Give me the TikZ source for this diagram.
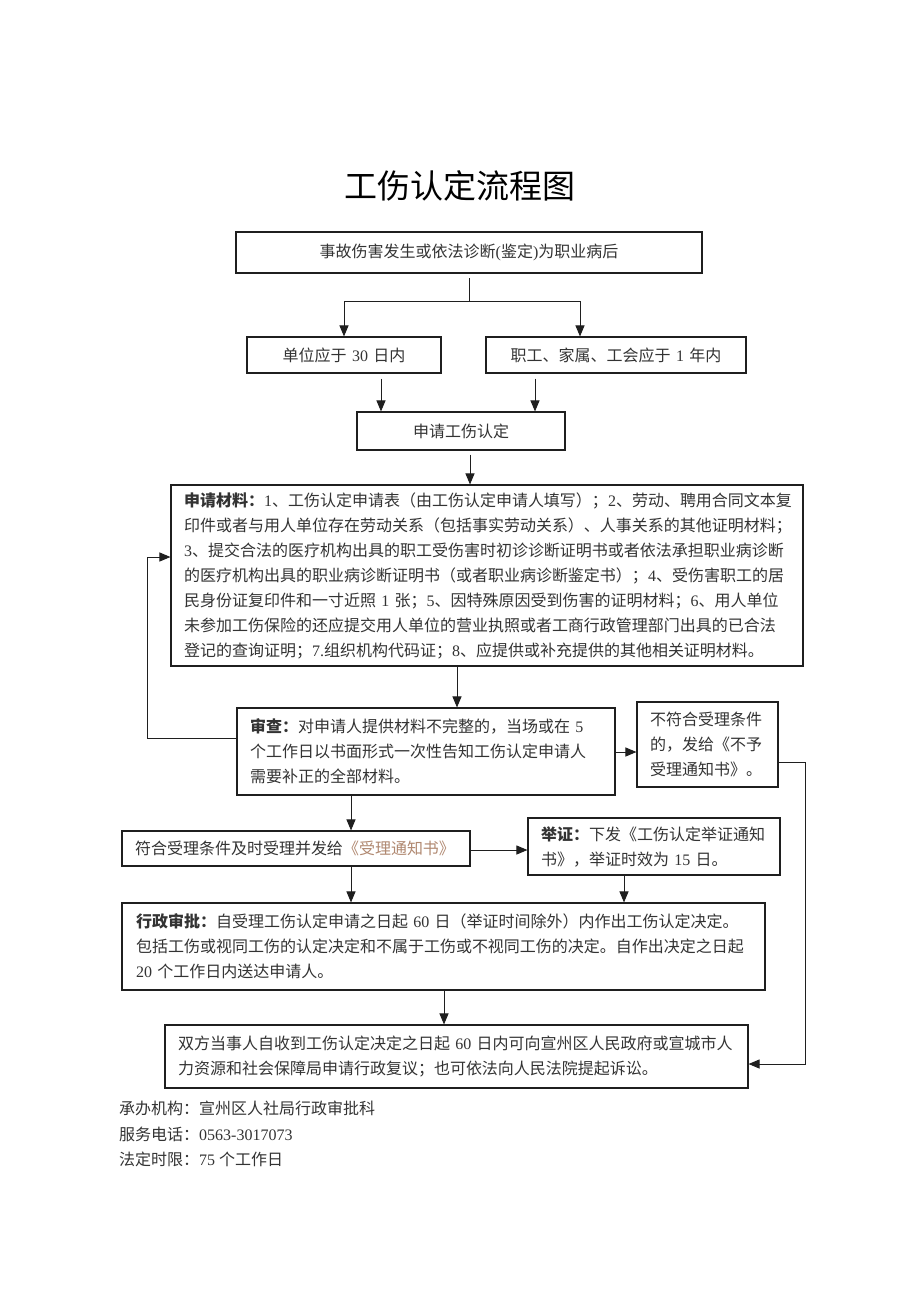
\documentclass[tikz,border=0pt]{standalone}
\usepackage{fontspec}
\setmainfont{Noto Sans CJK SC}
\newfontfamily\lat{Liberation Serif}
\newcommand\D[1]{{\lat #1}}
\usetikzlibrary{arrows.meta}
\definecolor{ln}{gray}{0.12}
\definecolor{tx}{gray}{0.2}
\definecolor{brn}{RGB}{176,136,112}
\tikzset{
  box/.style={draw=ln, line width=1.1pt, rectangle, inner xsep=13pt, inner ysep=0pt,
    align=left, font=\fontsize{16}{25}\selectfont, text=tx},
  cbox/.style={box, align=center},
  arr/.style={draw=ln, line width=1pt, -{Triangle[length=11pt,width=9pt]}},
  conn/.style={draw=ln, line width=1pt},
  foot/.style={anchor=west, inner sep=0pt, font=\fontsize{16}{25}\selectfont, text=tx},
}
\begin{document}
\begin{tikzpicture}[x=1pt,y=-1pt]
\useasboundingbox (0,0) rectangle (920,1302);
\fill[white] (0,0) rectangle (920,1302);

\node[font=\fontsize{33}{40}\selectfont] (title) at (460,186) {工伤认定流程图};

\node[cbox, minimum width=466pt, minimum height=41pt, text width=440pt] (b1) at (469,252.5)
  {事故伤害发生或依法诊断\D{(}鉴定\D{)}为职业病后};
\node[cbox, minimum width=194pt, minimum height=36pt, text width=168pt] (b2) at (344,355)
  {单位应于\D{~30~}日内};
\node[cbox, minimum width=260pt, minimum height=36pt, text width=234pt] (b3) at (616,355)
  {职工、家属、工会应于\D{~1~}年内};
\node[cbox, minimum width=208pt, minimum height=38pt, text width=182pt] (b4) at (461,431)
  {申请工伤认定};

\node[box, minimum width=632pt, minimum height=181pt, text width=606pt] (mat) at (487,575.5)
  {\textbf{申请材料：}\D{1}、工伤认定申请表（由工伤认定申请人填写）；\D{2}、劳动、聘用合同文本复\\
   印件或者与用人单位存在劳动关系（包括事实劳动关系）、人事关系的其他证明材料；\\
   \D{3}、提交合法的医疗机构出具的职工受伤害时初诊诊断证明书或者依法承担职业病诊断\\
   的医疗机构出具的职业病诊断证明书（或者职业病诊断鉴定书）；\D{4}、受伤害职工的居\\
   民身份证复印件和一寸近照\D{~1~}张；\D{5}、因特殊原因受到伤害的证明材料；\D{6}、用人单位\\
   未参加工伤保险的还应提交用人单位的营业执照或者工商行政管理部门出具的已合法\\
   登记的查询证明；\D{7.}组织机构代码证；\D{8}、应提供或补充提供的其他相关证明材料。};

\node[box, minimum width=378pt, minimum height=87pt, text width=352pt] (sc) at (426,751.5)
  {\textbf{审查：}对申请人提供材料不完整的，当场或在\D{~5}\\
   个工作日以书面形式一次性告知工伤认定申请人\\
   需要补正的全部材料。};
\node[box, minimum width=141pt, minimum height=85pt, text width=115pt] (bf) at (707.5,744.5)
  {不符合受理条件\\的，发给《不予\\受理通知书》。};

\node[box, minimum width=348pt, minimum height=35pt, text width=322pt] (fh) at (296,848.5)
  {符合受理条件及时受理并发给\textcolor{brn}{《受理通知书》}};
\node[box, minimum width=252pt, minimum height=57pt, text width=226pt] (jz) at (654,846.5)
  {\textbf{举证：}下发《工伤认定举证通知\\书》，举证时效为\D{~15~}日。};

\node[box, minimum width=643pt, minimum height=87pt, text width=615pt, inner xsep=14pt] (xz) at (443.5,946.5)
  {\textbf{行政审批：}自受理工伤认定申请之日起\D{~60~}日（举证时间除外）内作出工伤认定决定。\\
   包括工伤或视同工伤的认定决定和不属于工伤或不视同工伤的决定。自作出决定之日起\\
   \D{20~}个工作日内送达申请人。};

\node[box, minimum width=583pt, minimum height=63pt, text width=557pt] (fin) at (456.5,1056.5)
  {双方当事人自收到工伤认定决定之日起\D{~60~}日内可向宣州区人民政府或宣城市人\\
   力资源和社会保障局申请行政复议；也可依法向人民法院提起诉讼。};

\node[foot] (f1) at (119,1108) {承办机构：宣州区人社局行政审批科};
\node[foot] (f2) at (119,1134) {服务电话：\D{0563-3017073}};
\node[foot] (f3) at (119,1159) {法定时限：\D{75~}个工作日};

% helper coordinates
\coordinate (top1) at (469,278);
\coordinate (split) at (469,301);
\coordinate (xa) at (381,0);
\coordinate (xb) at (535,0);
\coordinate (xc) at (470,0);
\coordinate (xd) at (457,0);
\coordinate (xe) at (351,0);
\coordinate (xf) at (624,0);
\coordinate (xg) at (444,0);
\coordinate (xr) at (580,0);
\coordinate (ya) at (0,752);
\coordinate (yb) at (0,762);
\coordinate (yc) at (0,850);
\coordinate (yd) at (0,557);
\coordinate (rc) at (805,1064);
\coordinate (lc) at (147,738);

\draw[conn] (top1) -- (split);
\draw[arr] (split) -| (b2.north);
\draw[arr] (split) -| (b3.north -| xr);
\draw[arr] ([yshift=-5pt]b2.south -| xa) -- (b4.north -| xa);
\draw[arr] ([yshift=-5pt]b3.south -| xb) -- (b4.north -| xb);
\draw[arr] ([yshift=-4pt]b4.south -| xc) -- (mat.north -| xc);
\draw[arr] (mat.south -| xd) -- (sc.north -| xd);
\draw[arr] (sc.east |- ya) -- (bf.west |- ya);
\draw[arr] (sc.west |- lc) -- (lc) |- (mat.west |- yd);
\draw[arr] (bf.east |- yb) -| (rc) -- (fin.east |- rc);
\draw[arr] (sc.south -| xe) -- (fh.north -| xe);
\draw[arr] (fh.east |- yc) -- (jz.west |- yc);
\draw[arr] (fh.south -| xe) -- (xz.north -| xe);
\draw[arr] (jz.south -| xf) -- (xz.north -| xf);
\draw[arr] (xz.south -| xg) -- (fin.north -| xg);
\end{tikzpicture}
\end{document}
